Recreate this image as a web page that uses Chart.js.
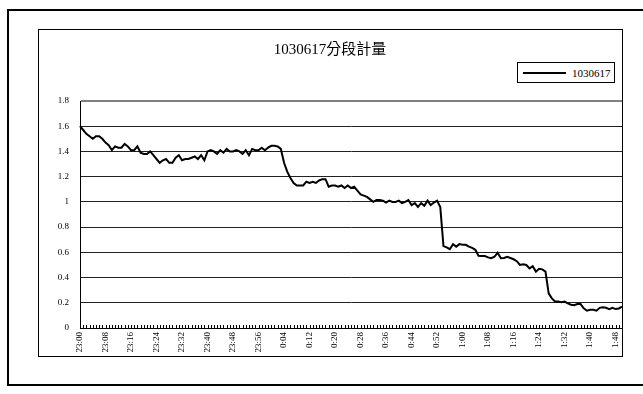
<!DOCTYPE html>
<html>
<head>
<meta charset="utf-8">
<script src="https://cdn.jsdelivr.net/npm/chart.js@4.4.0/dist/chart.umd.min.js"></script>
<style>
  body { margin: 0; background: #fff; }
  #wrap { position: relative; width: 643px; height: 394px; overflow: hidden; }
  #legend {
    position: absolute; left: 517px; top: 62px; width: 98px; height: 21px;
    border: 1px solid #000; box-sizing: border-box; background: #fff;
    font: 11px 'Liberation Serif', serif; color: #000;
    display: flex; align-items: center; padding-left: 5px;
  }
  #legend .swatch { display: inline-block; width: 43px; height: 2px; margin-right: 6px; }
</style>
</head>
<body>
<div id="wrap">
  <canvas id="flow" width="643" height="394"></canvas>
  <div id="legend"></div>
</div>
<script>
const FONT = "'Liberation Serif', 'Noto Sans CJK TC', serif";

const seriesName = '1030617';
const chartTitle = '1030617分段計量';

// one reading per minute, 23:00 -> 1:50
const flow = [
  1.60, 1.57, 1.54, 1.52, 1.50, 1.52, 1.52, 1.50, 1.47, 1.45,
  1.41, 1.44, 1.43, 1.43, 1.46, 1.44, 1.41, 1.41, 1.44, 1.39,
  1.38, 1.38, 1.40, 1.37, 1.34, 1.31, 1.33, 1.34, 1.31, 1.31,
  1.35, 1.37, 1.33, 1.34, 1.34, 1.35, 1.36, 1.34, 1.37, 1.33,
  1.40, 1.41, 1.40, 1.38, 1.41, 1.39, 1.42, 1.40, 1.40, 1.41,
  1.40, 1.38, 1.41, 1.37, 1.42, 1.41, 1.41, 1.43, 1.41, 1.43,
  1.445, 1.445, 1.44, 1.42, 1.31, 1.24, 1.19, 1.15, 1.13, 1.13,
  1.13, 1.16, 1.15, 1.16, 1.15, 1.17, 1.18, 1.18, 1.12, 1.13,
  1.13, 1.12, 1.13, 1.11, 1.13, 1.11, 1.12, 1.09, 1.06, 1.05,
  1.04, 1.02, 1.00, 1.015, 1.015, 1.01, 0.995, 1.01, 1.00, 1.00,
  1.01, 0.99, 1.00, 1.015, 0.975, 0.99, 0.96, 0.99, 0.97, 1.01,
  0.975, 0.995, 1.01, 0.96, 0.65, 0.64, 0.625, 0.665, 0.645, 0.665,
  0.66, 0.66, 0.645, 0.635, 0.62, 0.573, 0.57, 0.57, 0.56, 0.553,
  0.565, 0.597, 0.553, 0.555, 0.565, 0.555, 0.545, 0.53, 0.50, 0.505,
  0.50, 0.473, 0.49, 0.447, 0.47, 0.465, 0.447, 0.275, 0.235, 0.21,
  0.21, 0.205, 0.21, 0.195, 0.185, 0.18, 0.19, 0.19, 0.156, 0.137,
  0.145, 0.145, 0.137, 0.16, 0.165, 0.16, 0.15, 0.16, 0.15, 0.155,
  0.17
];

// labelled every 8 minutes along the x axis
const timeTicks = [
  '23:00', '23:08', '23:16', '23:24', '23:32', '23:40', '23:48', '23:56',
  '0:04', '0:12', '0:20', '0:28', '0:36', '0:44', '0:52',
  '1:00', '1:08', '1:16', '1:24', '1:32', '1:40', '1:48'
];
const tickEvery = 8;

const yMin = 0;
const yMax = 1.8;
const yStep = 0.2;

const minutes = flow.map((v, i) => {
  const m = (23 * 60 + i) % (24 * 60);
  return Math.floor(m / 60) + ':' + String(m % 60).padStart(2, '0');
});

const framePlugin = {
  id: 'frames',
  beforeDraw(chart) {
    const ctx = chart.ctx;
    ctx.save();
    ctx.fillStyle = '#fff';
    ctx.fillRect(0, 0, chart.width, chart.height);
    ctx.strokeStyle = '#000';
    ctx.lineWidth = 2;
    ctx.strokeRect(8, 10, 700, 375);
    ctx.lineWidth = 1;
    ctx.strokeRect(38.5, 29.5, 584, 327);
    ctx.restore();
  },
  afterDatasetsDraw(chart) {
    // short minute marks standing on the x axis
    const ctx = chart.ctx;
    const x = chart.scales.x;
    const bottom = chart.chartArea.bottom;
    ctx.save();
    ctx.strokeStyle = '#000';
    ctx.lineWidth = 1;
    ctx.beginPath();
    for (let i = 0; i < minutes.length; i++) {
      const px = Math.round(x.getPixelForValue(i)) + 0.5;
      ctx.moveTo(px, bottom);
      ctx.lineTo(px, bottom - 3);
    }
    ctx.stroke();
    ctx.restore();
  }
};

const chart = new Chart(document.getElementById('flow'), {
  type: 'line',
  data: {
    labels: minutes,
    datasets: [{
      label: seriesName,
      data: flow,
      borderColor: '#000',
      backgroundColor: '#000',
      borderWidth: 2,
      pointRadius: 0,
      tension: 0,
      fill: false
    }]
  },
  options: {
    responsive: false,
    animation: false,
    layout: {
      padding: {top: 29, left: 38, right: 21, bottom: 38}
    },
    plugins: {
      legend: {display: false},
      tooltip: {enabled: false},
      title: {
        display: true,
        text: chartTitle,
        color: '#000',
        font: {family: FONT, size: 15, weight: 'normal', lineHeight: 1.2},
        padding: {top: 12, bottom: 42}
      }
    },
    scales: {
      x: {
        type: 'category',
        offset: false,
        grid: {display: false, drawTicks: false},
        border: {display: true, color: '#000', width: 1},
        afterFit(scale) { scale.height = 28; },
        ticks: {
          autoSkip: false,
          maxRotation: 90,
          minRotation: 90,
          padding: 4,
          color: '#000',
          font: {family: FONT, size: 9},
          callback: (val, i) => (i % tickEvery === 0 ? timeTicks[i / tickEvery] : '')
        }
      },
      y: {
        min: yMin,
        max: yMax,
        afterFit(scale) { scale.width = 42; },
        grid: {
          drawTicks: false,
          color: c => (c.tick.value > yMax - 0.01 ? '#808080' : '#222'),
          lineWidth: c => (c.tick.value > yMax - 0.01 ? 2 : 1)
        },
        border: {display: true, color: '#000', width: 1},
        ticks: {
          stepSize: yStep,
          padding: 11,
          color: '#000',
          font: {family: FONT, size: 9},
          callback: v => String(+v.toFixed(1))
        }
      }
    }
  },
  plugins: [framePlugin]
});

// legend box built from the dataset
const legendEl = document.getElementById('legend');
chart.data.datasets.forEach(ds => {
  const sw = document.createElement('span');
  sw.className = 'swatch';
  sw.style.background = ds.borderColor;
  const txt = document.createElement('span');
  txt.textContent = ds.label;
  legendEl.appendChild(sw);
  legendEl.appendChild(txt);
});
</script>
</body>
</html>
